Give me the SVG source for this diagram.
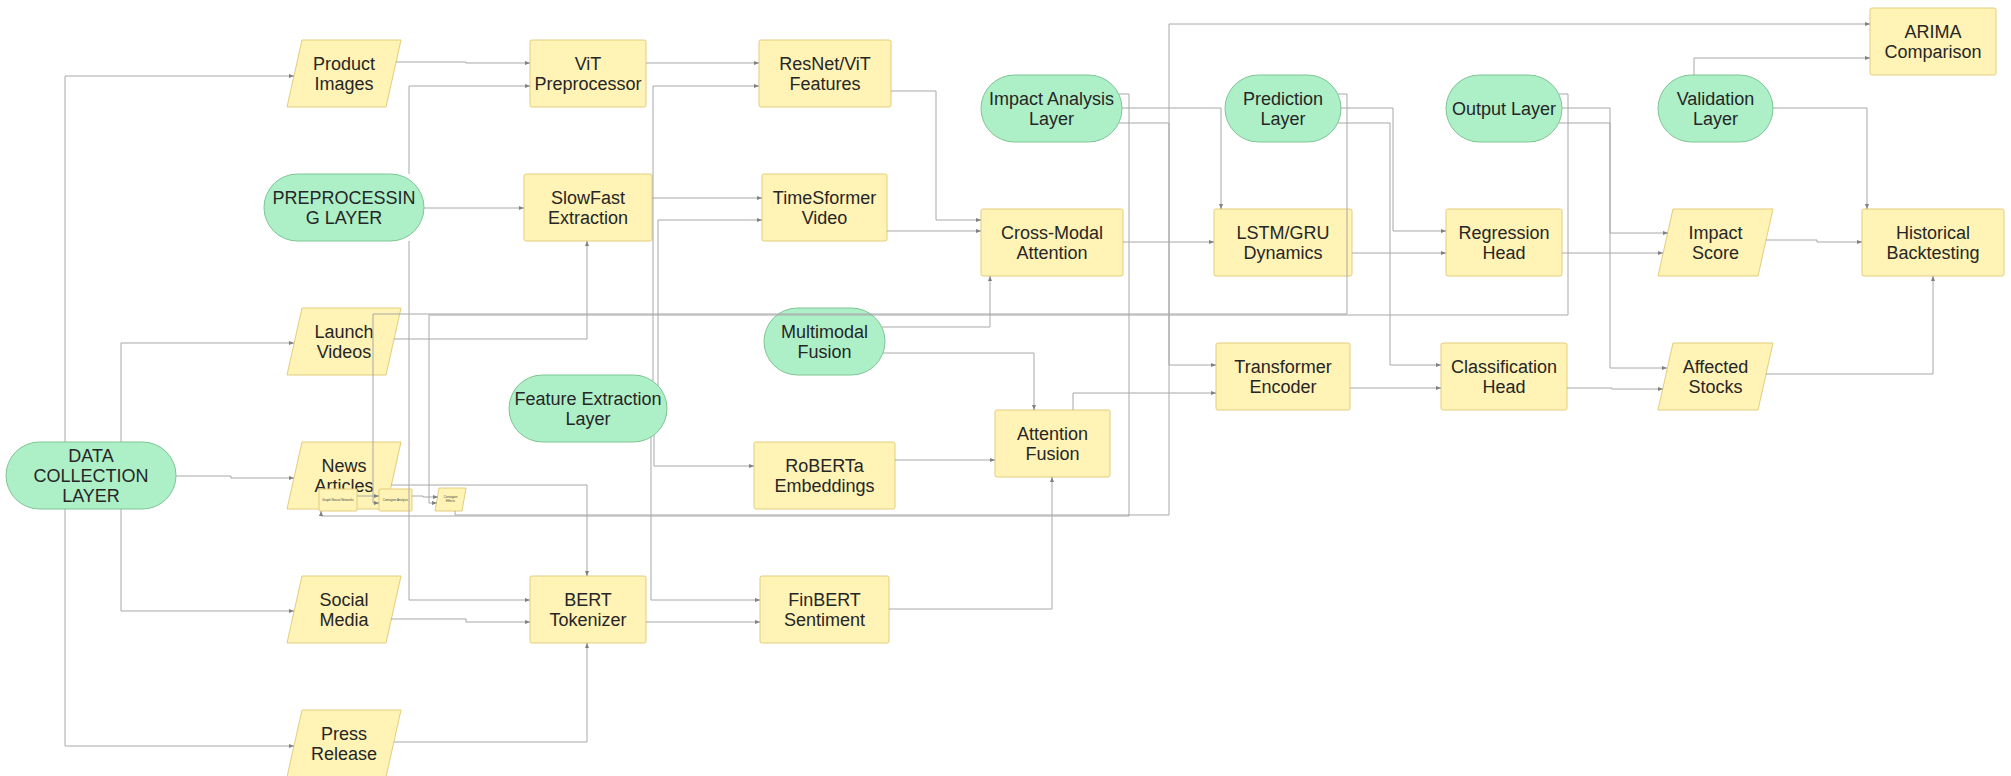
<svg xmlns="http://www.w3.org/2000/svg" width="2011" height="776" viewBox="0 0 2011 776">
<defs>
<style>
.y{fill:#fff3b5;stroke:#e3cd7c;stroke-width:1}
.g{fill:#adf0c8;stroke:#7fc493;stroke-width:1}
.t{font-family:"Liberation Sans",Arial,sans-serif;font-size:18px;fill:#262626;text-anchor:middle}
.s{font-family:"Liberation Sans",Arial,sans-serif;font-size:3px;fill:#444;text-anchor:middle}
.e{fill:none;stroke:#a8a8a8;stroke-width:1;marker-end:url(#a)}
</style>
<marker id="a" markerWidth="6" markerHeight="6" refX="5" refY="3" orient="auto" markerUnits="userSpaceOnUse">
<path d="M0,1 L5,3 L0,5 Z" fill="#808080"/>
</marker>
</defs>
<rect width="2011" height="776" fill="#ffffff"/>

<g id="n-dcl"><rect class="g" x="6" y="442" width="170" height="67" rx="33.5"/><text class="t" x="91" y="462">DATA</text><text class="t" x="91" y="482">COLLECTION</text><text class="t" x="91" y="502">LAYER</text></g>
<g id="n-prep"><rect class="g" x="264" y="174" width="160" height="67" rx="33.5"/><text class="t" x="344" y="204">PREPROCESSIN</text><text class="t" x="344" y="224">G LAYER</text></g>
<g id="n-fel"><rect class="g" x="509" y="375" width="158" height="67" rx="33.5"/><text class="t" x="588" y="405">Feature Extraction</text><text class="t" x="588" y="425">Layer</text></g>
<g id="n-mf"><rect class="g" x="764" y="308" width="121" height="67" rx="33.5"/><text class="t" x="824.5" y="338">Multimodal</text><text class="t" x="824.5" y="358">Fusion</text></g>
<g id="n-ial"><rect class="g" x="981" y="75" width="141" height="67" rx="33.5"/><text class="t" x="1051.5" y="105">Impact Analysis</text><text class="t" x="1051.5" y="125">Layer</text></g>
<g id="n-pl"><rect class="g" x="1225" y="75" width="116" height="67" rx="33.5"/><text class="t" x="1283" y="105">Prediction</text><text class="t" x="1283" y="125">Layer</text></g>
<g id="n-ol"><rect class="g" x="1446" y="75" width="116" height="67" rx="33.5"/><text class="t" x="1504" y="115">Output Layer</text></g>
<g id="n-vl"><rect class="g" x="1658" y="75" width="115" height="67" rx="33.5"/><text class="t" x="1715.5" y="105">Validation</text><text class="t" x="1715.5" y="125">Layer</text></g>

<g id="n-pi"><polygon class="y" points="302,40 401,40 386,107 287,107"/><text class="t" x="344" y="70">Product</text><text class="t" x="344" y="90">Images</text></g>
<g id="n-lv"><polygon class="y" points="302,308 401,308 386,375 287,375"/><text class="t" x="344" y="338">Launch</text><text class="t" x="344" y="358">Videos</text></g>
<g id="n-na"><polygon class="y" points="302,442 401,442 386,509 287,509"/><text class="t" x="344" y="472">News</text><text class="t" x="344" y="492">Articles</text></g>
<g id="n-sm"><polygon class="y" points="302,576 401,576 386,643 287,643"/><text class="t" x="344" y="606">Social</text><text class="t" x="344" y="626">Media</text></g>
<g id="n-pr"><polygon class="y" points="302,710 401,710 386,777 287,777"/><text class="t" x="344" y="740">Press</text><text class="t" x="344" y="760">Release</text></g>

<g id="n-vit"><rect class="y" x="530" y="40" width="116" height="67" rx="2"/><text class="t" x="588" y="70">ViT</text><text class="t" x="588" y="90">Preprocessor</text></g>
<g id="n-sf"><rect class="y" x="524" y="174" width="128" height="67" rx="2"/><text class="t" x="588" y="204">SlowFast</text><text class="t" x="588" y="224">Extraction</text></g>
<g id="n-bert"><rect class="y" x="530" y="576" width="116" height="67" rx="2"/><text class="t" x="588" y="606">BERT</text><text class="t" x="588" y="626">Tokenizer</text></g>
<g id="n-rvf"><rect class="y" x="759" y="40" width="132" height="67" rx="2"/><text class="t" x="825" y="70">ResNet/ViT</text><text class="t" x="825" y="90">Features</text></g>
<g id="n-ts"><rect class="y" x="762" y="174" width="125" height="67" rx="2"/><text class="t" x="824.5" y="204">TimeSformer</text><text class="t" x="824.5" y="224">Video</text></g>
<g id="n-rob"><rect class="y" x="754" y="442" width="141" height="67" rx="2"/><text class="t" x="824.5" y="472">RoBERTa</text><text class="t" x="824.5" y="492">Embeddings</text></g>
<g id="n-fin"><rect class="y" x="760" y="576" width="129" height="67" rx="2"/><text class="t" x="824.5" y="606">FinBERT</text><text class="t" x="824.5" y="626">Sentiment</text></g>
<g id="n-cma"><rect class="y" x="981" y="209" width="142" height="67" rx="2"/><text class="t" x="1052" y="239">Cross-Modal</text><text class="t" x="1052" y="259">Attention</text></g>
<g id="n-af"><rect class="y" x="995" y="410" width="115" height="67" rx="2"/><text class="t" x="1052.5" y="440">Attention</text><text class="t" x="1052.5" y="460">Fusion</text></g>
<g id="n-lstm"><rect class="y" x="1214" y="209" width="138" height="67" rx="2"/><text class="t" x="1283" y="239">LSTM/GRU</text><text class="t" x="1283" y="259">Dynamics</text></g>
<g id="n-te"><rect class="y" x="1216" y="343" width="134" height="67" rx="2"/><text class="t" x="1283" y="373">Transformer</text><text class="t" x="1283" y="393">Encoder</text></g>
<g id="n-rh"><rect class="y" x="1446" y="209" width="116" height="67" rx="2"/><text class="t" x="1504" y="239">Regression</text><text class="t" x="1504" y="259">Head</text></g>
<g id="n-ch"><rect class="y" x="1441" y="343" width="126" height="67" rx="2"/><text class="t" x="1504" y="373">Classification</text><text class="t" x="1504" y="393">Head</text></g>
<g id="n-is"><polygon class="y" points="1673,209 1773,209 1758,276 1658,276"/><text class="t" x="1715.5" y="239">Impact</text><text class="t" x="1715.5" y="259">Score</text></g>
<g id="n-as"><polygon class="y" points="1673,343 1773,343 1758,410 1658,410"/><text class="t" x="1715.5" y="373">Affected</text><text class="t" x="1715.5" y="393">Stocks</text></g>
<g id="n-hb"><rect class="y" x="1862" y="209" width="142" height="67" rx="2"/><text class="t" x="1933" y="239">Historical</text><text class="t" x="1933" y="259">Backtesting</text></g>
<g id="n-arima"><rect class="y" x="1870" y="8" width="126" height="67" rx="2"/><text class="t" x="1933" y="38">ARIMA</text><text class="t" x="1933" y="58">Comparison</text></g>

<g id="n-gnn"><rect class="y" x="319" y="489" width="38" height="22" rx="1"/><text class="s" x="338" y="501">Graph Neural Networks</text></g>
<g id="n-ca"><rect class="y" x="379" y="489" width="33" height="22" rx="1"/><text class="s" x="395.5" y="501">Contagion Analysis</text></g>
<g id="n-ce"><polygon class="y" points="439,488 466,488 462,511 435,511"/><text class="s" x="450.5" y="498">Contagion</text><text class="s" x="450.5" y="502">Effects</text></g>

<g id="edges">
<polyline class="e" points="65,442 65,76 294,76"/>
<polyline class="e" points="65,509 65,746 294,746"/>
<polyline class="e" points="121,442 121,343 294,343"/>
<polyline class="e" points="121,509 121,611 294,611"/>
<polyline class="e" points="176,476 231,476 231,478 294,478"/>
<polyline class="e" points="396,62 466,62 466,63 530,63"/>
<polyline class="e" points="409,174 409,86 530,86"/>
<polyline class="e" points="409,241 409,600 530,600"/>
<polyline class="e" points="424,208 524,208"/>
<polyline class="e" points="394,339 587,339 587,241"/>
<polyline class="e" points="391,485 587,485 587,576"/>
<polyline class="e" points="391,619 466,619 466,622 530,622"/>
<polyline class="e" points="394,742 587,742 587,643"/>
<polyline class="e" points="646,63 759,63"/>
<polyline class="e" points="652,198 762,198"/>
<polyline class="e" points="653,381 653,86 759,86"/>
<polyline class="e" points="658,386 658,220 762,220"/>
<polyline class="e" points="654,435 654,466 754,466"/>
<polyline class="e" points="651,437 651,600 760,600"/>
<polyline class="e" points="646,622 760,622"/>
<polyline class="e" points="891,91 936,91 936,220 981,220"/>
<polyline class="e" points="887,231 981,231"/>
<polyline class="e" points="882,327 990,327 990,276"/>
<polyline class="e" points="883,353 1034,353 1034,410"/>
<polyline class="e" points="895,460 995,460"/>
<polyline class="e" points="889,609 1052,609 1052,477"/>
<polyline class="e" points="1073,410 1073,393 1216,393"/>
<polyline class="e" points="1123,242 1214,242"/>
<polyline class="e" points="1122,108 1221,108 1221,209"/>
<polyline class="e" points="1119,123 1169,123 1169,365 1216,365"/>
<polyline class="e" points="1119,94 1129,94 1129,516 321,516 321,511"/>
<polyline class="e" points="455,511 455,515 1169,515 1169,24 1870,24"/>
<polyline class="e" points="357,496 379,496"/>
<polyline class="e" points="1338,94 1347,94 1347,314 373,314 373,503 379,503"/>
<polyline class="e" points="412,496 423,496 423,497 438,497"/>
<polyline class="e" points="1559,94 1568,94 1568,315 429,315 429,503 437,503"/>
<polyline class="e" points="1340,108 1393,108 1393,231 1446,231"/>
<polyline class="e" points="1338,123 1390,123 1390,365 1441,365"/>
<polyline class="e" points="1562,108 1610,108 1610,233 1668,233"/>
<polyline class="e" points="1559,123 1610,123 1610,368 1667,368"/>
<polyline class="e" points="1352,253 1446,253"/>
<polyline class="e" points="1350,388 1441,388"/>
<polyline class="e" points="1562,253 1663,253"/>
<polyline class="e" points="1567,388 1612,388 1612,389 1663,389"/>
<polyline class="e" points="1766,240 1817,240 1817,242 1862,242"/>
<polyline class="e" points="1766,374 1933,374 1933,276"/>
<polyline class="e" points="1694,75 1694,58 1870,58"/>
<polyline class="e" points="1773,108 1867,108 1867,209"/>
</g>
</svg>
